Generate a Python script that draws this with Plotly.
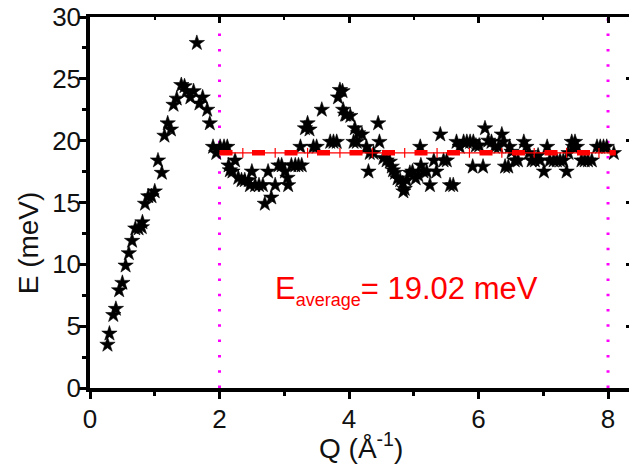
import plotly.graph_objects as go

# Measured dispersion points: momentum transfer Q (1/Å) and energy E (meV)
q_vals = [
    0.27, 0.30, 0.36, 0.40, 0.45, 0.50, 0.55, 0.60, 0.65, 0.70,
    0.75, 0.80, 0.81, 0.85, 0.90, 0.95, 1.00, 1.05, 1.11, 1.15,
    1.20, 1.25, 1.29, 1.34, 1.41, 1.46, 1.49, 1.55, 1.60, 1.65,
    1.69, 1.74, 1.81, 1.85, 1.90, 1.95, 2.01, 2.07, 2.12, 2.14,
    2.16, 2.20, 2.24, 2.29, 2.34, 2.39, 2.45, 2.47, 2.50, 2.55,
    2.61, 2.67, 2.70, 2.75, 2.80, 2.86, 2.91, 2.96, 3.01, 3.05,
    3.06, 3.11, 3.17, 3.22, 3.25, 3.27, 3.32, 3.36, 3.39, 3.45,
    3.50, 3.58, 3.71, 3.76, 3.81, 3.83, 3.86, 3.90, 3.91, 3.94,
    3.96, 4.02, 4.07, 4.09, 4.12, 4.14, 4.20, 4.27, 4.30, 4.32,
    4.38, 4.45, 4.47, 4.53, 4.58, 4.63, 4.66, 4.68, 4.71, 4.75,
    4.79, 4.83, 4.84, 4.86, 4.89, 4.94, 4.98, 5.03, 5.07, 5.10,
    5.11, 5.15, 5.20, 5.25, 5.31, 5.35, 5.41, 5.46, 5.51, 5.56,
    5.61, 5.66, 5.71, 5.77, 5.82, 5.87, 5.91, 5.92, 5.96, 6.01,
    6.07, 6.10, 6.15, 6.20, 6.25, 6.31, 6.36, 6.38, 6.41, 6.46,
    6.48, 6.51, 6.56, 6.61, 6.70, 6.74, 6.78, 6.82, 6.87, 6.92,
    6.95, 7.01, 7.06, 7.10, 7.16, 7.21, 7.26, 7.31, 7.36, 7.39,
    7.44, 7.46, 7.49, 7.52, 7.59, 7.64, 7.69, 7.75, 7.83, 7.88,
    7.93, 7.98, 8.09,
]
e_vals = [
    3.5, 4.4, 5.9, 6.4, 7.9, 8.5, 9.9, 10.9, 11.9, 12.9,
    12.9, 13.0, 13.4, 14.9, 15.5, 15.5, 15.9, 18.4, 17.4, 20.4,
    21.4, 20.9, 22.9, 23.4, 24.5, 24.4, 24.0, 23.5, 24.0, 27.9,
    23.0, 23.5, 22.5, 21.4, 19.5, 19.0, 19.5, 19.5, 19.5, 18.0,
    17.6, 17.5, 18.4, 17.0, 16.8, 16.8, 16.8, 16.4, 17.5, 16.4,
    16.4, 16.4, 14.9, 17.5, 15.4, 16.4, 18.0, 18.0, 17.5, 17.0,
    16.4, 18.0, 18.0, 18.0, 19.5, 18.0, 21.0, 21.4, 20.9, 19.5,
    19.5, 22.5, 19.9, 19.9, 19.9, 23.5, 24.1, 24.0, 22.5, 22.1,
    22.1, 22.0, 19.9, 21.0, 19.9, 20.6, 20.5, 19.5, 17.5, 19.0,
    19.0, 21.4, 19.9, 18.6, 18.4, 18.3, 17.9, 17.6, 17.4, 16.95,
    16.8, 16.55, 15.9, 16.1, 16.8, 17.4, 17.5, 16.95, 17.2, 19.5,
    18.0, 17.5, 17.5, 16.4, 18.4, 17.5, 20.5, 18.4, 18.4, 16.4,
    16.4, 19.9, 19.5, 19.9, 19.9, 19.9, 17.9, 19.9, 19.6, 19.6,
    17.9, 21.0, 20.0, 19.9, 19.5, 19.5, 20.5, 19.9, 17.9, 17.9,
    19.5, 19.1, 18.4, 18.4, 19.9, 19.5, 19.0, 18.4, 18.4, 18.8,
    18.4, 17.5, 19.5, 18.4, 18.4, 18.4, 18.4, 18.4, 17.5, 19.0,
    19.9, 19.5, 19.9, 19.5, 18.4, 18.4, 18.4, 18.4, 19.5, 19.5,
    19.5, 19.5, 19.0,
]

# Average energy over the plateau and the Q window used for it
e_average = 19.02
avg_q_range = [2.0, 8.12]
avg_marker_q = [2.36, 2.86, 3.36, 3.86, 4.36, 4.86, 5.36, 5.86, 6.36, 6.86, 7.36, 7.86]
window_edges = [2.0, 8.0]

x_ticks = [0, 2, 4, 6, 8]
y_ticks = [0, 5, 10, 15, 20, 25, 30]

FONT = "Arial, Liberation Sans, sans-serif"
X_MAX = 8.324
Y_RANGE = [0, 30]

fig = go.Figure()

# Vertical dotted boundaries of the averaging window
for q in window_edges:
    fig.add_trace(go.Scatter(
        x=[q, q], y=Y_RANGE, mode="lines",
        line=dict(color="#FF00FF", width=3, dash="2.5px,12.8px"),
        hoverinfo="skip", showlegend=False,
    ))

# Data points
fig.add_trace(go.Scatter(
    x=q_vals, y=e_vals, mode="markers",
    marker=dict(symbol="star", size=11.5, color="black",
                line=dict(color="black", width=0.6)),
    showlegend=False,
))

# Average level: thin line, thick dashes and small ticks
fig.add_trace(go.Scatter(
    x=avg_q_range, y=[e_average, e_average], mode="lines",
    line=dict(color="#FF0000", width=1.2),
    hoverinfo="skip", showlegend=False,
))
fig.add_trace(go.Scatter(
    x=avg_q_range, y=[e_average, e_average], mode="lines",
    line=dict(color="#FF0000", width=5.5, dash="13px,19.5px"),
    hoverinfo="skip", showlegend=False,
))
fig.add_trace(go.Scatter(
    x=avg_marker_q, y=[e_average] * len(avg_marker_q), mode="markers",
    marker=dict(symbol="line-ns", size=7, color="#FF0000",
                line=dict(color="#FF0000", width=1.2)),
    hoverinfo="skip", showlegend=False,
))

# Transparent trace carrying the top / right frame axes
fig.add_trace(go.Scatter(
    x=[0, X_MAX], y=Y_RANGE, xaxis="x2", yaxis="y2", mode="markers",
    marker=dict(opacity=0, size=1), showlegend=False, hoverinfo="skip",
))

tick_font = dict(family=FONT, size=26, color="#111")

fig.update_layout(
    width=629, height=470,
    margin=dict(l=90, r=0, t=17, b=82),
    paper_bgcolor="white", plot_bgcolor="white",
    font=dict(family=FONT),
    xaxis=dict(
        range=[0, X_MAX], showline=True, linewidth=3.5, linecolor="black",
        ticks="outside", ticklen=7, tickwidth=3, tickcolor="black",
        tickvals=x_ticks, ticktext=[str(v) for v in x_ticks],
        minor=dict(dtick=1, tick0=0, ticks="outside", ticklen=4, tickwidth=2.5,
                   tickcolor="black"),
        ticklabelstandoff=-2, tickfont=tick_font,
        showgrid=False, zeroline=False,
    ),
    yaxis=dict(
        range=Y_RANGE, showline=True, linewidth=3.5, linecolor="black",
        ticks="outside", ticklen=7, tickwidth=3, tickcolor="black",
        tickvals=y_ticks, ticktext=[str(v) for v in y_ticks],
        minor=dict(dtick=2.5, tick0=0, ticks="outside", ticklen=4, tickwidth=2.5,
                   tickcolor="black"),
        ticklabelstandoff=-7, tickfont=tick_font,
        showgrid=False, zeroline=False,
    ),
    xaxis2=dict(
        range=[0, X_MAX], overlaying="x", side="top", anchor="y2",
        showline=True, linewidth=2.5, linecolor="black",
        ticks="inside", ticklen=6, tickwidth=2.5, tickcolor="black",
        dtick=2, tick0=0, showticklabels=False,
        minor=dict(dtick=1, tick0=0, ticks="inside", ticklen=3, tickwidth=2,
                   tickcolor="black"),
        showgrid=False, zeroline=False,
    ),
    yaxis2=dict(
        range=Y_RANGE, overlaying="y", side="right", anchor="x2",
        showline=False, ticks="inside", ticklen=3, tickwidth=2.5, tickcolor="black",
        dtick=5, tick0=0, showticklabels=False,
        showgrid=False, zeroline=False,
    ),
    annotations=[
        dict(text="Q (Å<sup>-1</sup>)", xref="paper", yref="paper",
             x=0.503, y=-0.155, xanchor="center", yanchor="middle",
             showarrow=False, font=dict(family=FONT, size=28, color="#111")),
        dict(text="E (meV)", xref="paper", yref="paper", textangle=-90,
             x=-0.115, y=0.39, xanchor="center", yanchor="middle",
             showarrow=False, font=dict(family=FONT, size=28, color="#111")),
        dict(text='E<sub><span style="font-size:18px">average</span></sub>= 19.02 meV',
             xref="x", yref="y", x=2.82, y=7.9, xanchor="left", yanchor="middle",
             showarrow=False, font=dict(family=FONT, size=31, color="#FF0000")),
    ],
)

fig.write_html("out.html")
